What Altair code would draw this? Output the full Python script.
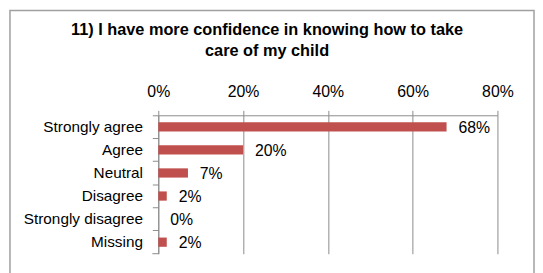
import altair as alt
import pandas as pd

categories = ["Strongly agree", "Agree", "Neutral", "Disagree", "Strongly disagree", "Missing"]
values = [68, 20, 7, 2, 0, 2]
labels = ["68%", "20%", "7%", "2%", "0%", "2%"]
x_ticks = [0, 20, 40, 60, 80]
title_lines = ["11) I have more confidence in knowing how to take", "care of my child"]

df = pd.DataFrame({"category": categories, "value": values, "label": labels})
title_df = pd.DataFrame({"line": title_lines, "row": [0, 1]})

FONT = "Liberation Sans"
GRAY = "#8c8c8c"
RED = "#C0504D"
W, H = 343, 140

x = alt.X(
    "value:Q",
    scale=alt.Scale(domain=[0, 80]),
    axis=alt.Axis(
        orient="top", values=x_ticks, labelExpr="datum.value + '%'", title=None,
        grid=True, gridColor=GRAY, domainColor=GRAY, tickColor=GRAY, tickSize=5,
        labelPadding=11, labelFlush=False, labelFontSize=16, labelColor="black", labelFont=FONT,
    ),
)
y = alt.Y(
    "category:N",
    sort=categories,
    scale=alt.Scale(paddingInner=0.6, paddingOuter=0.3),
    axis=alt.Axis(
        title=None, bandPosition=-0.75, ticks=True, tickSize=6, tickColor=GRAY,
        domainColor=GRAY, labelFontSize=15.5, labelPadding=10, labelColor="black",
        labelFont=FONT, grid=False,
    ),
)

base = alt.Chart(df)
bars = base.mark_bar(color=RED).encode(x=x, y=y)
text = base.mark_text(align="left", dx=12, dy=1, fontSize=16, font=FONT, color="black").encode(
    x="value:Q", y=alt.Y("category:N", sort=categories), text="label:N"
)
bottom_tick = alt.Chart(pd.DataFrame({"d": [0]})).mark_rule(color=GRAY).encode(
    x=alt.value(-6), x2=alt.value(0), y=alt.value(H)
)
border = alt.Chart(pd.DataFrame({"d": [0]})).mark_rect(
    fill="transparent", stroke="#a0a0a0", strokeWidth=1.5, clip=False
).encode(x=alt.value(-150), x2=alt.value(380), y=alt.value(-106), y2=alt.value(170))

title_layers = []
for i, ypos in enumerate([-86, -65]):
    title_layers.append(
        alt.Chart(title_df).transform_filter(alt.datum.row == i).mark_text(
            font=FONT, fontSize=16.5, fontWeight="bold", color="black",
            baseline="middle", align="center",
        ).encode(x=alt.value(110), y=alt.value(ypos), text="line:N")
    )

chart = alt.layer(border, *title_layers, bars, text, bottom_tick).properties(
    width=W,
    height=H,
    padding={"left": 152, "top": 107, "right": 38, "bottom": 18},
    autosize=alt.AutoSizeParams(type="none"),
).configure_view(stroke="transparent")

chart.save("out.html", embed_options={"renderer": "svg", "actions": False})
